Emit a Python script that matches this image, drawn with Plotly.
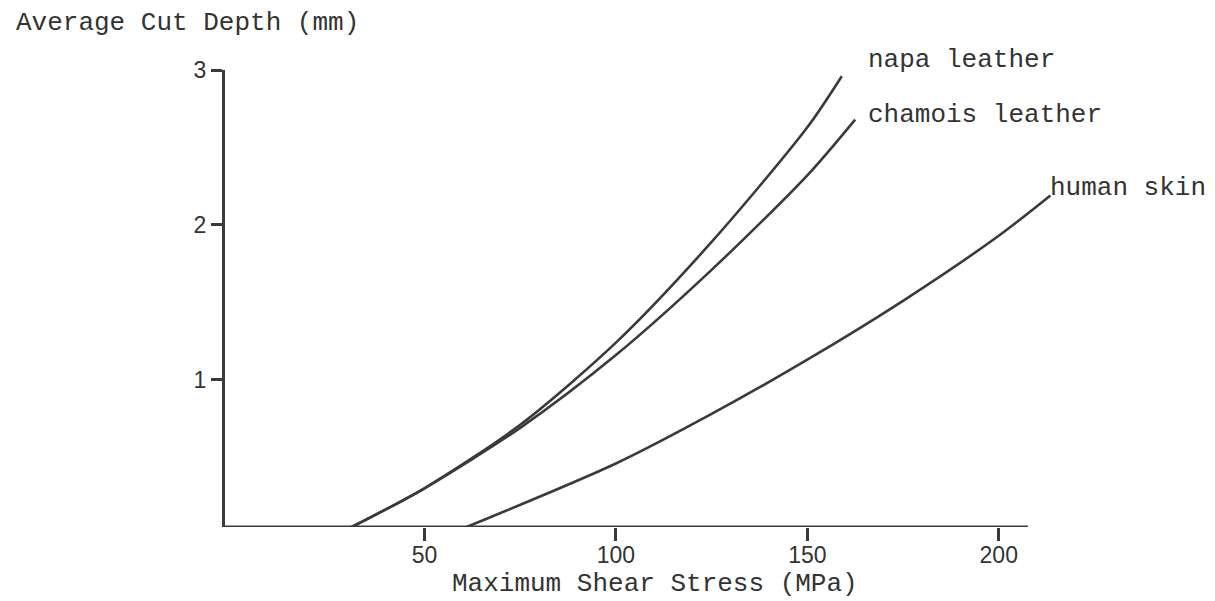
import plotly.graph_objects as go

# Data (x = Maximum Shear Stress MPa, y = Average Cut Depth mm)
napa_x = [31, 50, 75, 100, 125, 150, 159]
napa_y = [0.05, 0.30, 0.71, 1.24, 1.89, 2.63, 2.96]

chamois_x = [31, 50, 75, 100, 125, 150, 162.5]
chamois_y = [0.05, 0.30, 0.69, 1.16, 1.71, 2.32, 2.68]

human_x = [61, 100, 125, 150, 175, 200, 213.5]
human_y = [0.05, 0.46, 0.78, 1.13, 1.51, 1.93, 2.19]

series_names = ["napa leather", "chamois leather", "human skin"]
x_ticks = [50, 100, 150, 200]
y_ticks = [1, 2, 3]

W, H = 1215, 601
L, T, B = 217, 62, 82
X0, X1 = -2.1, 216.0
XAXIS_END = 207.6
Y0, Y1 = 0.05, 3.0
R = W - (L + (X1 - X0) * 3.83)
PW = W - L - R
PH = H - T - B

line_col = "#3a3a3a"
text_col = "#333333"
mono = "Liberation Mono, Courier New, monospace"
sans = "Liberation Sans, Arial, sans-serif"
MONO_SIZE = 26


def px_x(px):
    return (px - L) / PW


def px_y(py):
    return 1 - (py - T) / PH


fig = go.Figure()
for xs, ys in [(napa_x, napa_y), (chamois_x, chamois_y), (human_x, human_y)]:
    fig.add_trace(go.Scatter(x=xs, y=ys, mode="lines",
                             line=dict(color=line_col, width=2.6, shape="spline", smoothing=0.8),
                             showlegend=False, hoverinfo="skip"))

# x axis line (ends short of plot right edge)
fig.add_shape(type="line", xref="x", yref="y", x0=X0, x1=XAXIS_END, y0=Y0, y1=Y0,
              line=dict(color=line_col, width=3))

# series labels (pixel positions of text start / vertical centre)
label_px = [(858, 52), (858, 107), (1040, 180)]
for name, (lx, ly) in zip(series_names, label_px):
    fig.add_annotation(x=px_x(lx), xref="paper", y=px_y(ly), yref="paper", text=name,
                       showarrow=False, xanchor="left", yanchor="middle",
                       font=dict(family=mono, size=MONO_SIZE, color=text_col))

# axis titles
fig.add_annotation(x=px_x(6), xref="paper", y=px_y(15), yref="paper",
                   text="Average Cut Depth (mm)", showarrow=False, xanchor="left", yanchor="middle",
                   font=dict(family=mono, size=MONO_SIZE, color=text_col))
fig.add_annotation(x=px_x(442), xref="paper", y=px_y(576), yref="paper",
                   text="Maximum Shear Stress (MPa)", showarrow=False, xanchor="left", yanchor="middle",
                   font=dict(family=mono, size=MONO_SIZE, color=text_col))

fig.update_layout(
    width=W, height=H,
    margin=dict(l=L, r=R, t=T, b=B),
    paper_bgcolor="white", plot_bgcolor="white",
    xaxis=dict(range=[X0, X1], tickvals=x_ticks, ticktext=[str(v) for v in x_ticks],
               showgrid=False, zeroline=False, showline=False,
               ticks="outside", ticklen=13, tickwidth=3, tickcolor=line_col,
               ticklabelstandoff=-6,
               tickfont=dict(family=sans, size=23, color=text_col)),
    yaxis=dict(range=[Y0, Y1], tickvals=y_ticks, ticktext=[str(v) for v in y_ticks],
               showgrid=False, zeroline=False, showline=True, linecolor=line_col, linewidth=3,
               ticks="outside", ticklen=11, tickwidth=3, tickcolor=line_col,
               tickfont=dict(family=sans, size=23, color=text_col)),
)

fig.write_html("out.html")
